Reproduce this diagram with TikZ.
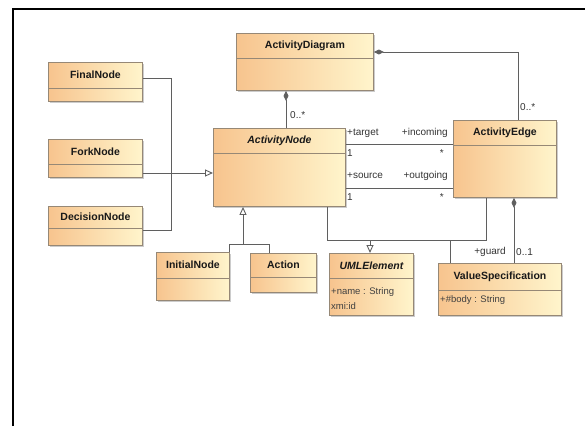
\documentclass[tikz,border=0pt]{standalone}
\usepackage{fontspec}
\setmainfont{Liberation Sans}
\usetikzlibrary{arrows.meta,shadows}

\definecolor{boxdark}{RGB}{247,196,142}
\definecolor{boxlight}{RGB}{255,245,204}
\definecolor{boxline}{RGB}{150,136,118}
\definecolor{wire}{RGB}{95,95,95}

\tikzset{
  cls/.style={draw=boxline, line width=0.9pt, left color=boxdark, right color=boxlight,
    drop shadow={shadow xshift=1.6pt, shadow yshift=-1.6pt, fill=black!40},
    inner sep=0pt, anchor=north west},
  divider/.style={draw=boxline, line width=0.7pt},
  ttl/.style={font=\fontsize{10.5}{12}\selectfont\bfseries, inner sep=0pt, text=black!90},
  attr/.style={font=\fontsize{9.5}{11}\selectfont, inner sep=0pt, anchor=west, text=black!75},
  lbl/.style={font=\fontsize{10}{11}\selectfont, inner sep=0pt, text=black!80},
  wire/.style={draw=wire, line width=0.9pt},
  gen/.style={wire, -{Triangle[open, length=8pt, width=7pt]}},
  comp/.style={wire, {Diamond[fill=wire, length=10pt, width=5pt]}-},
}

% class box: name, left, top, width, height, header height, title
\newcommand\umlclass[7]{%
  \node[cls, minimum width=#4pt, minimum height=#5pt] (#1) at (#2,#3) {};
  \draw[divider] ([yshift=-#6pt]#1.north west) -- ([yshift=-#6pt]#1.north east);
  \node[ttl] (#1-t) at ([yshift=-#6pt/2]#1.north) {#7};
}

\begin{document}
\begin{tikzpicture}[x=1pt, y=-1pt]
\useasboundingbox (0,0) rectangle (585,426);

% frame
\draw[line width=2pt] (13,426) -- (13,9) -- (585,9);

% classes
\umlclass{ad}{236}{33}{137}{57}{25}{ActivityDiagram}
\umlclass{fn}{48}{62}{94}{39}{26}{FinalNode}
\umlclass{fk}{48}{139}{94}{38}{25}{ForkNode}
\umlclass{dn}{48}{206}{94}{39}{22}{DecisionNode}
\umlclass{an}{213}{128}{132}{78}{25}{\itshape ActivityNode}
\umlclass{ae}{453}{120}{103}{77}{25}{ActivityEdge}
\umlclass{in}{156}{252}{73}{48}{26}{InitialNode}
\umlclass{ac}{250}{253}{66}{39}{24}{Action}
\umlclass{ue}{329}{253}{84}{62}{25}{\itshape UMLElement}
\umlclass{vs}{438}{263}{123}{52}{27}{ValueSpecification}

% attributes
\node[attr] (ue-a1) at (331,292) {+name : String};
\node[attr] (ue-a2) at (331,306) {xmi:id};
\node[attr] (vs-a1) at (440,300) {+\#body : String};

% composition: diagram owns nodes and edges
\draw[comp] (ad.south -| 286,0) -- (an.north -| 286,0);
\node[lbl, anchor=west] (m1) at (290,115) {0..*};
\draw[comp] (ad.east |- 0,52) -- (518,52) -- (ae.north -| 518,0);
\node[lbl, anchor=west] (m2) at (520,107) {0..*};

% generalization of control nodes
\coordinate (jn) at (171,173);
\draw[wire] (fn.east |- 0,78) -- (171,78) -- (171,230) -- (dn.east |- 0,230);
\draw[gen] (fk.east |- jn) -- (an.west |- jn);

% generalization of initial node and action
\draw[gen] (243,244) -- (an.south -| 243,0);
\draw[wire] (in.north -| 229,0) -- (229,244) -- (269,244) -- (ac.north -| 269,0);

% generalization to UMLElement
\draw[wire] (an.south -| 327,0) -- (327,240) -- (486,240) -- (ae.south -| 486,0);
\draw[wire] (450,240) -- (vs.north -| 450,0);
\draw[gen] (370,240) -- (ue.north -| 370,0);

% guard composition
\draw[comp] (ae.south -| 514,0) -- (vs.north -| 514,0);
\node[lbl, anchor=east] (g1) at (506,252) {+guard};
\node[lbl, anchor=west] (g2) at (516,252) {0..1};

% associations between nodes and edges
\draw[wire] (an.east |- 0,144) -- (ae.west |- 0,144);
\draw[wire] (an.east |- 0,188) -- (ae.west |- 0,188);
\node[lbl, anchor=west] (t1) at (347,133) {+target};
\node[lbl, anchor=east] (t2) at (448,133) {+incoming};
\node[lbl, anchor=west] (t3) at (347,153) {1};
\node[lbl, anchor=east] (t4) at (444,153) {*};
\node[lbl, anchor=west] (s1) at (347,176) {+source};
\node[lbl, anchor=east] (s2) at (448,176) {+outgoing};
\node[lbl, anchor=west] (s3) at (347,197) {1};
\node[lbl, anchor=east] (s4) at (444,197) {*};
\end{tikzpicture}
\end{document}
